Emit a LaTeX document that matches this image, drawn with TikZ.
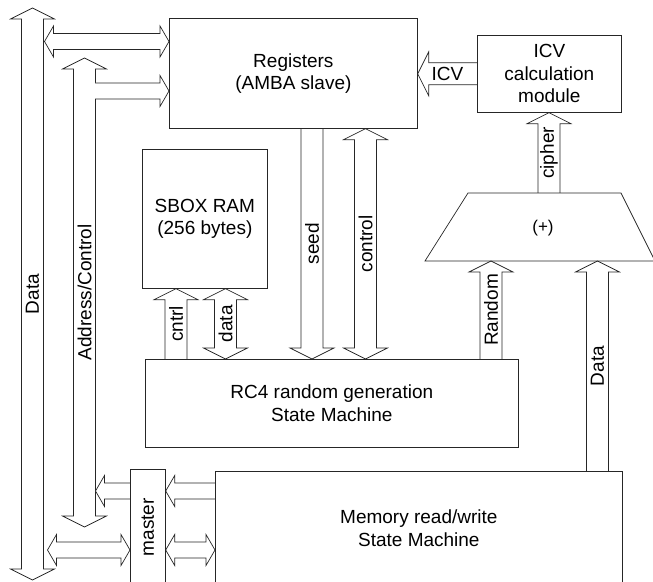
\documentclass[tikz,border=0pt]{standalone}
\usepackage{fontspec}
\setmainfont{Liberation Sans}
\usetikzlibrary{calc}
\pgfdeclarelayer{arrows}
\pgfsetlayers{arrows,main}

% block arrows: shaft half width, head half width, head length
\newcommand{\fatsize}[3]{\def\fatS{#1}\def\fatH{#2}\def\fatL{#3}}
\newcommand{\fatarrow}[4]{% from, to, label angle, label
  \begin{pgfonlayer}{arrows}
  \path #1 coordinate (fa) #2 coordinate (fb);
  \path ($(fb)!\fatL!(fa)$) coordinate (fhb);
  \draw[fat] ($(fa)!\fatS!90:(fb)$) -- ($(fhb)!\fatS!90:(fb)$) -- ($(fhb)!\fatH!90:(fb)$)
    -- (fb) -- ($(fhb)!\fatH!-90:(fb)$) -- ($(fhb)!\fatS!-90:(fb)$) -- ($(fa)!\fatS!-90:(fb)$);
  \end{pgfonlayer}
  \if\relax\detokenize{#4}\relax\else
    \node[lbl,rotate=#3] at ($(fa)!.5!(fb)$) {#4};\fi}
\newcommand{\fatdouble}[4]{% end, end, label angle, label
  \begin{pgfonlayer}{arrows}
  \path #1 coordinate (fa) #2 coordinate (fb);
  \path ($(fa)!\fatL!(fb)$) coordinate (fha) ($(fb)!\fatL!(fa)$) coordinate (fhb);
  \draw[fat] (fa) -- ($(fha)!\fatH!90:(fb)$) -- ($(fha)!\fatS!90:(fb)$) -- ($(fhb)!\fatS!90:(fb)$)
    -- ($(fhb)!\fatH!90:(fb)$) -- (fb) -- ($(fhb)!\fatH!-90:(fb)$) -- ($(fhb)!\fatS!-90:(fb)$)
    -- ($(fha)!\fatS!-90:(fb)$) -- ($(fha)!\fatH!-90:(fb)$) -- cycle;
  \end{pgfonlayer}
  \if\relax\detokenize{#4}\relax\else
    \node[lbl,rotate=#3] at ($(fa)!.5!(fb)$) {#4};\fi}

\begin{document}
\begin{tikzpicture}[x=1pt,y=1pt,
    box/.style={draw=black!85,line width=.7pt,inner sep=0pt,align=center,font=\fontsize{19}{22.5}\selectfont},
    outline/.style={draw=black!85,line width=.7pt},
    fat/.style={draw=black!85,line width=.7pt,fill=white},
    lbl/.style={inner sep=0pt,font=\fontsize{19}{22.5}\selectfont}
  ]
    \useasboundingbox (0,0) rectangle (653,581);

    \node[box,anchor=north west,minimum width=248,minimum height=110] (reg) at (169,563) {Registers\\(AMBA slave)};
    \node[box,anchor=north west,minimum width=144,minimum height=77] (icv) at (477,546) {ICV\\calculation\\module};
    \node[box,anchor=north west,minimum width=125,minimum height=139] (sbox) at (142,432) {SBOX RAM\\(256 bytes)};
    \node[box,anchor=north west,minimum width=373,minimum height=88] (rc4) at (145,222) {RC4 random generation\\State Machine};
    \node[box,anchor=north west,minimum width=407,minimum height=114] (mem) at (215,110) {Memory read/write\\State Machine};
    \node[box,anchor=north west,minimum width=35,minimum height=116] (master) at (130,112) {\rotatebox{90}{master}};

    % (+) block
    \coordinate (xbl) at (425,320);
    \coordinate (xtl) at (468,388);
    \draw[outline] (xbl) -- (xtl) -- (621,388) -- (655,320) -- cycle;
    \node[font=\fontsize{17}{19}\selectfont] (xor) at (543,353) {(+)};

    % buses
    \coordinate (dtop) at (32.5,573);
    \coordinate (dbot) at (32.5,1);
    \coordinate (atop) at (84.5,523);
    \coordinate (abot) at (84.5,54);
    \fatsize{11pt}{22pt}{11pt}
    \fatdouble{(dbot)}{(dtop)}{90}{Data}
    \fatdouble{(abot)}{(atop)}{90}{Address/Control}
    \fatarrow{(312,0 |- reg.south)}{(312,0 |- rc4.north)}{90}{seed}
    \fatdouble{(365.5,0 |- rc4.north)}{(365.5,0 |- reg.south)}{90}{control}
    \fatarrow{(176,0 |- rc4.north)}{(176,0 |- sbox.south)}{90}{cntrl}
    \fatdouble{(225.5,0 |- rc4.north)}{(225.5,0 |- sbox.south)}{90}{data}
    \fatarrow{(491,0 |- rc4.north)}{(491,0 |- xbl)}{90}{Random}
    \fatarrow{(597.5,0 |- mem.north)}{(597.5,0 |- xbl)}{90}{Data}
    \fatarrow{(549,0 |- xtl)}{(549,0 |- icv.south)}{90}{cipher}
    \fatarrow{(icv.west)}{(icv.west -| reg.east)}{0}{ICV}

    \coordinate (dbus1) at (44.5,539.5);
    \coordinate (abr) at (95.2,490);
    \coordinate (mrd) at (95.5,90);
    \coordinate (dbus2) at (47.5,31);
    \fatsize{8pt}{15.5pt}{9pt}
    \fatdouble{(dbus1)}{(dbus1 -| reg.west)}{0}{}
    \fatarrow{(abr)}{(abr -| reg.west)}{0}{}
    \fatarrow{(mrd -| master.west)}{(mrd)}{0}{}
    \fatdouble{(dbus2)}{(dbus2 -| master.west)}{0}{}
    \fatarrow{(mrd -| mem.west)}{(mrd -| master.east)}{0}{}
    \fatdouble{(dbus2 -| master.east)}{(dbus2 -| mem.west)}{0}{}
\end{tikzpicture}
\end{document}
